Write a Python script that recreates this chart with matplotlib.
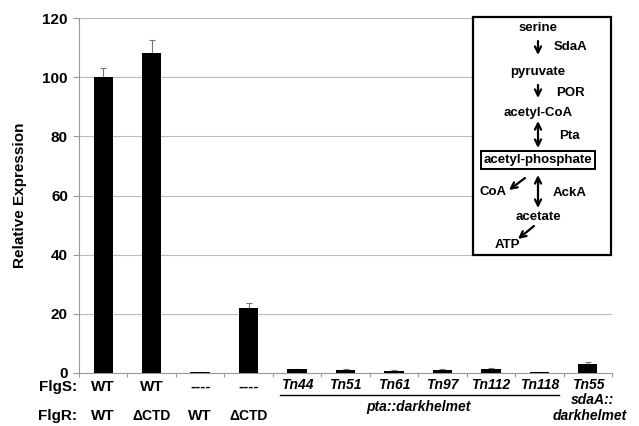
import matplotlib
matplotlib.use("Agg")
import matplotlib.pyplot as plt
import matplotlib.transforms as mtransforms
import numpy as np

plt.rcParams['font.family'] = ['Liberation Sans', 'DejaVu Sans']
plt.rcParams['font.weight'] = 'bold'

# data
flgs = ["WT", "WT", "----", "----", "Tn44", "Tn51", "Tn61", "Tn97", "Tn112", "Tn118", "Tn55"]
flgr = ["WT", "\u0394CTD", "WT", "\u0394CTD"]
values = [100, 108.3, 0.3, 22.0, 1.2, 1.0, 0.6, 1.0, 1.3, 0.2, 3.0]
errors = [3.0, 4.3, 0.1, 1.5, 0.3, 0.3, 0.3, 0.3, 0.3, 0.1, 0.8]
yticks = [0, 20, 40, 60, 80, 100, 120]

W, H = 639, 426
fig = plt.figure(figsize=(W / 100, H / 100), dpi=100)
ax = fig.add_axes([79 / W, 1 - 373 / H, (612 - 79) / W, (373 - 18) / H])

x = np.arange(len(values))
ax.bar(x, values, width=0.4, color='black', zorder=3)
ax.errorbar(x, values, yerr=[np.zeros(len(errors)), errors], fmt='none',
            ecolor='#777777', elinewidth=0.8, capsize=2, capthick=0.8, zorder=2)

ax.set_xlim(-0.5, len(values) - 0.5)
ax.set_ylim(0, 120)
ax.set_yticks(yticks)
ax.tick_params(axis='y', labelsize=11, length=4, color='#999999', pad=4)
ax.set_xticks(np.arange(len(values) + 1) - 0.5)
ax.set_xticklabels([])
ax.tick_params(axis='x', length=3, color='#999999', direction='out')
ax.yaxis.grid(True, color='#bbbbbb', linewidth=0.8, zorder=0)
for s in ['top', 'right']:
    ax.spines[s].set_visible(False)
for s in ['left', 'bottom']:
    ax.spines[s].set_color('#999999')
ax.set_ylabel("Relative Expression", fontsize=11, fontweight='bold', labelpad=11)

# category labels under the axis
trans = mtransforms.blended_transform_factory(ax.transData, fig.transFigure)
fy = lambda py: 1 - py / H
lfs = 10
fig.text(77 / W, fy(387), "FlgS:", ha='right', va='center', fontsize=11)
fig.text(77 / W, fy(416), "FlgR:", ha='right', va='center', fontsize=11)
for i, lab in enumerate(flgs):
    if lab.startswith("Tn"):
        ax.text(i, fy(385), lab, transform=trans, ha='center', va='center',
                fontsize=lfs, style='italic')
    else:
        ax.text(i, fy(387), lab, transform=trans, ha='center', va='center', fontsize=11)
for i, lab in enumerate(flgr):
    ax.text(i, fy(416), lab, transform=trans, ha='center', va='center',
            fontsize=11 if lab == "WT" else 10)
ax.plot([3.65, 9.4], [fy(395), fy(395)], transform=trans, color='black',
        linewidth=1, clip_on=False)
ax.text(6.5, fy(407), "pta::darkhelmet", transform=trans, ha='center',
        va='center', fontsize=lfs, style='italic')
ax.text(10.1, fy(399.5), "sdaA::", transform=trans, ha='center', va='center',
        fontsize=lfs, style='italic')
ax.text(10.05, fy(416), "darkhelmet", transform=trans, ha='center', va='center',
        fontsize=lfs, style='italic')

# pathway inset box (pixel coordinates)
ov = fig.add_axes([0, 0, 1, 1], facecolor='none')
ov.set_xlim(0, W)
ov.set_ylim(H, 0)
ov.axis('off')
ov.add_patch(plt.Rectangle((473, 17), 138, 238, fill=True, facecolor='white',
                           edgecolor='black', linewidth=1.6))
fs = 9.5
cx = 538
ov.text(cx, 28, "serine", ha='center', va='center', fontsize=fs)
ov.text(cx, 72, "pyruvate", ha='center', va='center', fontsize=fs)
ov.text(cx, 113, "acetyl-CoA", ha='center', va='center', fontsize=fs)
ov.text(cx, 160, "acetyl-phosphate", ha='center', va='center', fontsize=fs,
        bbox=dict(boxstyle='square,pad=0.2', facecolor='white', edgecolor='black', linewidth=1.4))
ov.text(cx, 217, "acetate", ha='center', va='center', fontsize=fs)
ov.text(571, 47, "SdaA", ha='center', va='center', fontsize=fs)
ov.text(570, 93, "POR", ha='center', va='center', fontsize=fs)
ov.text(569, 136, "Pta", ha='center', va='center', fontsize=fs)
ov.text(570, 193, "AckA", ha='center', va='center', fontsize=fs)
ov.text(493, 192, "CoA", ha='center', va='center', fontsize=fs)
ov.text(507, 245, "ATP", ha='center', va='center', fontsize=fs)

arw = dict(arrowstyle='->', color='black', linewidth=1.6, mutation_scale=11,
           shrinkA=0, shrinkB=0)
darw = dict(arrowstyle='<->', color='black', linewidth=1.6, mutation_scale=11,
            shrinkA=0, shrinkB=0)
ov.annotate("", xy=(cx, 55), xytext=(cx, 41), arrowprops=arw)
ov.annotate("", xy=(cx, 98), xytext=(cx, 85), arrowprops=arw)
ov.annotate("", xy=(cx, 148), xytext=(cx, 121), arrowprops=darw)
ov.annotate("", xy=(cx, 208), xytext=(cx, 175), arrowprops=darw)
ov.annotate("", xy=(509, 190), xytext=(525, 178), arrowprops=arw)
ov.annotate("", xy=(518, 239), xytext=(534, 226), arrowprops=arw)

fig.savefig("out.png", dpi=100)
